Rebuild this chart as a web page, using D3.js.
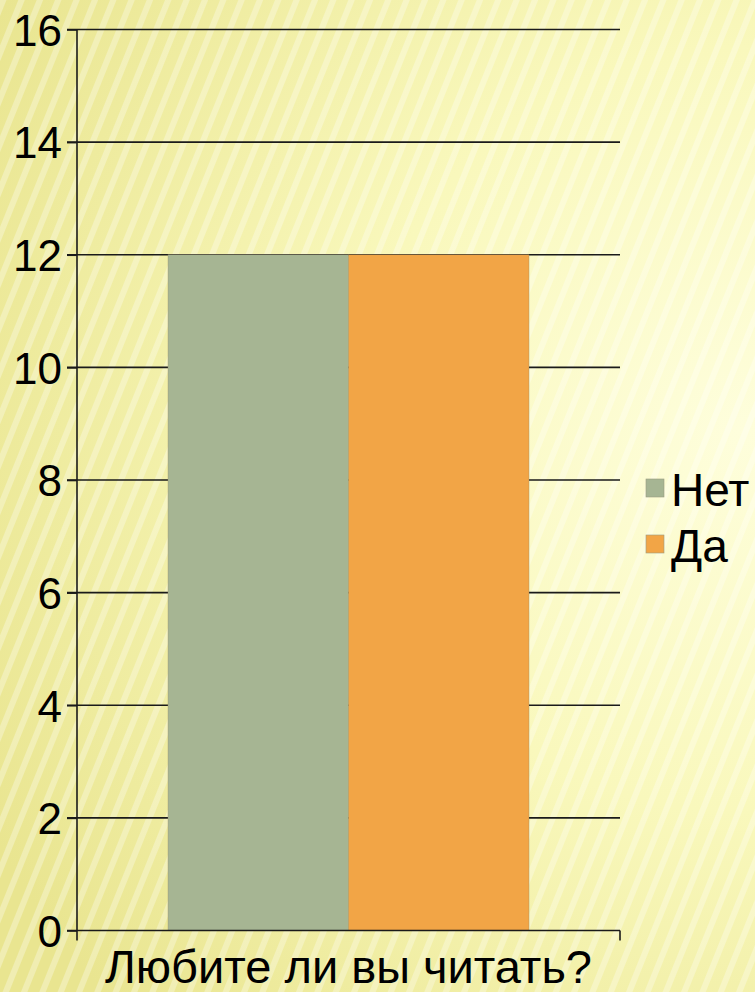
<!DOCTYPE html>
<html>
<head>
<meta charset="utf-8">
<script src="https://cdn.jsdelivr.net/npm/d3@7"></script>
<style>
  body { margin: 0; overflow: hidden; }
  svg { display: block; }
  text { font-family: "Liberation Sans", Arial, sans-serif; }
</style>
</head>
<body>
<svg width="755" height="992"></svg>
<script>
var categories = ["Любите ли вы читать?"];
var series = ["Нет", "Да"];
var values = [[12, 12]];
var colors = ["#a6b593", "#f2a546"];
var yTicks = [0, 2, 4, 6, 8, 10, 12, 14, 16];

var svg = d3.select("svg");
var defs = svg.append("defs");

// background glow
var rg = defs.append("radialGradient")
    .attr("id", "bg").attr("gradientUnits", "userSpaceOnUse")
    .attr("cx", 740).attr("cy", 430).attr("r", 850);
rg.append("stop").attr("offset", "0").attr("stop-color", "#fefedc");
rg.append("stop").attr("offset", "0.45").attr("stop-color", "#f9f8bc");
rg.append("stop").attr("offset", "1").attr("stop-color", "#e9e590");

var pat = defs.append("pattern")
    .attr("id", "stripes").attr("patternUnits", "userSpaceOnUse")
    .attr("width", 17).attr("height", 17)
    .attr("patternTransform", "rotate(22)");
pat.append("rect").attr("width", 6).attr("height", 17)
    .attr("fill", "#ffffff").attr("opacity", 0.3);

svg.append("rect").attr("width", 755).attr("height", 992).attr("fill", "url(#bg)");
svg.append("rect").attr("width", 755).attr("height", 992).attr("fill", "url(#stripes)");

// set the dimensions of the plot area
var margin = {top: 29.5, left: 77},
    width = 543,
    height = 901;

var g = svg.append("g")
    .attr("transform", "translate(" + margin.left + "," + margin.top + ")");

var x0 = d3.scaleBand().domain(categories).range([0, width]);
var x1 = d3.scaleBand().domain(series).range([91, x0.bandwidth() - 91]);
var y = d3.scaleLinear().domain([0, 16]).range([height, 0]);

// gridlines
g.selectAll(".grid")
  .data(yTicks.filter(function(d) { return d > 0; }))
  .enter().append("line")
    .attr("x1", -10).attr("x2", width)
    .attr("y1", function(d) { return y(d); })
    .attr("y2", function(d) { return y(d); })
    .attr("stroke", "#1a1a1a").attr("stroke-width", 1.6);

// bars
var cat = g.selectAll(".cat")
  .data(categories)
  .enter().append("g")
    .attr("transform", function(d) { return "translate(" + x0(d) + ",0)"; });

cat.selectAll("rect")
  .data(function(d, i) { return series.map(function(s, j) { return {s: s, v: values[i][j], c: colors[j]}; }); })
  .enter().append("rect")
    .attr("x", function(d) { return x1(d.s); })
    .attr("width", x1.bandwidth())
    .attr("y", function(d) { return y(d.v); })
    .attr("height", function(d) { return height - y(d.v); })
    .attr("fill", function(d) { return d.c; })
    .attr("stroke", "#9a8f6a").attr("stroke-width", 0.6).attr("stroke-opacity", 0.6);

// y axis
var yAxis = g.append("g")
    .call(d3.axisLeft(y).tickValues(yTicks).tickSize(10).tickPadding(5));
yAxis.select(".domain").attr("stroke", "#1a1a1a").attr("stroke-width", 1.6).attr("d", "M0,0V" + height);
yAxis.selectAll(".tick line").attr("stroke", "#1a1a1a").attr("stroke-width", 1.6);
yAxis.selectAll("text")
    .style("font-size", "44px").style("font-family", "'Liberation Sans', Arial, sans-serif")
    .attr("fill", "#000").attr("dy", "0.36em").attr("x", -15);

// x axis
var xAxis = g.append("g")
    .attr("transform", "translate(0," + height + ")")
    .call(d3.axisBottom(x0).tickSize(0).tickPadding(19));
xAxis.select(".domain").attr("stroke", "#1a1a1a").attr("stroke-width", 1.6)
    .attr("d", "M-10,0H" + width);
xAxis.selectAll(".tick text")
    .style("font-size", "47px").style("font-family", "'Liberation Sans', Arial, sans-serif")
    .attr("fill", "#000").attr("dy", "0.71em");
xAxis.selectAll(".edge")
  .data([0, width])
  .enter().append("line")
    .attr("x1", function(d) { return d; }).attr("x2", function(d) { return d; })
    .attr("y1", 0).attr("y2", 10)
    .attr("stroke", "#1a1a1a").attr("stroke-width", 1.6);

// legend
var legend = svg.append("g").attr("transform", "translate(646,479)");
var item = legend.selectAll(".item")
  .data(series)
  .enter().append("g")
    .attr("transform", function(d, i) { return "translate(0," + (i * 56) + ")"; });
item.append("rect")
    .attr("width", 18).attr("height", 18)
    .attr("fill", function(d, i) { return colors[i]; })
    .attr("stroke", "#9a9a80").attr("stroke-width", 0.6);
item.append("text")
    .attr("x", 25).attr("y", 27)
    .style("font-size", "46px").attr("fill", "#000")
    .text(function(d) { return d; });
</script>
</body>
</html>
